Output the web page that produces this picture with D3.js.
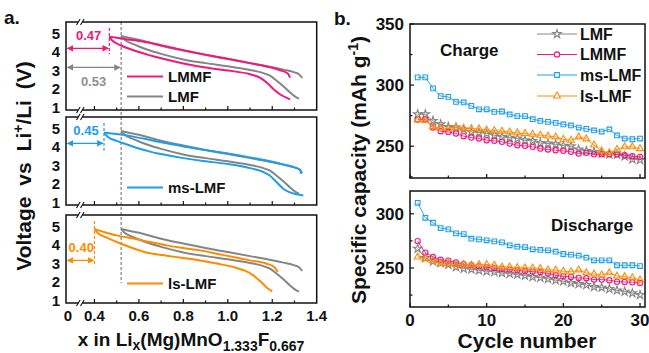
<!DOCTYPE html>
<html><head><meta charset="utf-8">
<script src="https://cdn.jsdelivr.net/npm/d3@7"></script>
<style>
body{margin:0;background:#fff}
svg{display:block}
text{font-family:"Liberation Sans",Arial,Helvetica,sans-serif;font-weight:bold;fill:#111}
</style>
</head><body><svg id="c" width="649" height="353"></svg>
<script>
// ---------- Panel a data: voltage profiles [x, V] ----------
const LMF_up   = [[0.52,4.86],[0.55,4.78],[0.6,4.66],[0.65,4.5],[0.7,4.34],[0.8,4.08],[0.9,3.84],[1.0,3.62],[1.1,3.4],[1.2,3.18],[1.25,3.05],[1.3,2.9],[1.32,2.8],[1.335,2.6]];
const LMF_down = [[0.52,4.86],[0.54,4.62],[0.57,4.45],[0.6,4.3],[0.65,4.08],[0.7,3.9],[0.8,3.6],[0.9,3.4],[1.0,3.23],[1.1,3.03],[1.15,2.9],[1.19,2.72],[1.22,2.45],[1.25,2.15],[1.28,1.82],[1.3,1.62],[1.32,1.48]];
const LMMF_up   = [[0.467,4.83],[0.5,4.77],[0.55,4.68],[0.6,4.6],[0.65,4.5],[0.7,4.36],[0.8,4.1],[0.9,3.86],[1.0,3.64],[1.1,3.4],[1.15,3.28],[1.2,3.15],[1.24,3.0],[1.27,2.84],[1.28,2.62]];
const LMMF_down = [[0.467,4.83],[0.48,4.62],[0.5,4.46],[0.53,4.3],[0.6,4.0],[0.65,3.82],[0.7,3.66],[0.8,3.38],[0.9,3.16],[1.0,3.0],[1.1,2.8],[1.15,2.58],[1.18,2.3],[1.21,1.95],[1.24,1.68],[1.27,1.5],[1.28,1.45]];
const MS_up   = [[0.443,4.77],[0.5,4.7],[0.575,4.56],[0.65,4.38],[0.725,4.2],[0.8,4.03],[0.875,3.88],[1.0,3.65],[1.1,3.44],[1.175,3.27],[1.25,3.06],[1.3,2.9],[1.325,2.77],[1.33,2.55]];
const MS_down = [[0.443,4.77],[0.46,4.55],[0.5,4.33],[0.53,4.2],[0.6,3.92],[0.65,3.75],[0.7,3.62],[0.8,3.4],[0.9,3.23],[1.0,3.08],[1.1,2.86],[1.16,2.65],[1.19,2.45],[1.22,2.1],[1.25,1.75],[1.28,1.55],[1.31,1.45],[1.34,1.38]];
const LS_up   = [[0.40,4.86],[0.45,4.68],[0.5,4.52],[0.575,4.35],[0.65,4.16],[0.725,3.98],[0.8,3.84],[0.875,3.71],[0.95,3.53],[1.025,3.35],[1.1,3.17],[1.175,2.99],[1.21,2.8],[1.225,2.55]];
const LS_down = [[0.40,4.86],[0.42,4.6],[0.455,4.4],[0.52,4.07],[0.6,3.72],[0.65,3.55],[0.725,3.42],[0.8,3.3],[0.875,3.17],[0.95,3.0],[1.025,2.81],[1.08,2.6],[1.115,2.36],[1.15,2.0],[1.18,1.65],[1.2,1.5]];
const onsetLMF = 0.52, onsetLMMF = 0.467, onsetMS = 0.443, onsetLS = 0.40;
const voltTicks = [1,2,3,4,5];
const xTicksA = [0,0.4,0.6,0.8,1.0,1.2,1.4];
const xTickLabelsA = ["0","0.4","0.6","0.8","1.0","1.2","1.4"];
const xMinorA = [0.5,0.7,0.9,1.1,1.3];

// ---------- Panel b data: capacity vs cycle ----------
const cycles = [1,2,3,4,5,6,7,8,9,10,11,12,13,14,15,16,17,18,19,20,21,22,23,24,25,26,27,28,29,30];
const seriesNames = ["LMF","LMMF","ms-LMF","ls-LMF"];
const chargeLMF  = [276.2,276.2,270.8,268,265.8,265.3,263.7,261.7,261.2,260.4,259,257.6,257.1,256.3,254.9,254.4,252.7,252.2,251.6,250.5,250,247.3,246.2,245.4,244,243.4,243.2,241.8,239.3,238.8];
const chargeLMMF = [271.9,271.9,265.3,262.3,261.7,260.4,258.2,257.1,256.3,254.9,254.4,253.6,252.2,250.8,250.3,249.5,248.1,247.3,246.7,246.2,245.4,244,244.6,243.4,243.4,243.4,243.4,242.6,241.8,241.3];
const chargeMS   = [306.3,306.3,297.3,291,290.4,286.3,285.8,283,280.2,280.2,278.1,278.4,276,274.6,274.6,272.1,270.7,269.9,269.1,267.8,267,265.3,264.2,262.9,262,263.7,258.8,256.3,255.7,256.3];
const chargeLS   = [271.5,271,266,265,264.5,265.5,264.6,264.4,264.2,263.2,262.8,262.3,261.7,261,260.4,259.8,259,258.3,257.6,255.7,254.9,257.6,256,251,246.2,244.6,247.3,249.5,249.5,248];
const disLMF  = [267.8,259.2,256.1,254.6,253.1,250.9,249.4,248.8,247.9,246.9,246.3,245.4,244.8,243.9,242.9,241.7,241.1,239.9,238.7,237.7,236.2,235.3,234.4,232.5,231.9,230.7,229.4,228.2,226.7,225.2];
const disLMMF = [274.8,264.1,260.1,257.7,256.7,255.2,253.4,252.5,251.5,250.6,250,249.1,248.5,247.9,247.2,246.6,246,244.8,243.3,242.3,241.7,240.8,240.5,239.3,239.3,238.7,237.4,237.1,236.8,236.2];
const disMS   = [310.1,296.3,291.7,286.8,285.6,281.9,281.3,277,276.4,275.5,274.5,273.6,270.9,269.6,269.3,267.2,266.6,266.3,265,262.9,262.3,261.3,259.5,257.1,257.1,257.1,252.5,252.5,252.5,251.8];
const disLS   = [260.1,258.6,256.4,254,254,253.1,253.5,252.8,253.1,253.1,252.5,250.9,250.9,250.3,250,250,249.4,248.2,248,247,246.5,248.2,245.5,244.5,243.5,245.5,242.5,242,241,239];
const chargeTicks = [250,300,350], chargeMinor = [225,275,325];
const disTicks = [250,300], disMinor = [225,275];
const cycleTicks = [0,10,20,30], cycleMinor = [5,15,25];

// ---------- styling ----------
const GRAY="#858585", PINK="#f2177c", BLUE="#1d9ee8", ORANGE="#ff8a00";
const svg = d3.select("#c");

// ================= Panel a =================
const xA = d3.scaleLinear().domain([0, 0.335, 1.4]).range([66, 80, 316.7]);
const pH = 88;
const tops = [22, 117, 215];
const yA = tops.map(t => d3.scaleLinear().domain([0.87, 5.62]).range([t + pH, t]));
const curveLine = y => d3.line().x(d => xA(d[0])).y(d => y(d[1])).curve(d3.curveMonotoneX);

const panelsA = [
  {curves:[[LMF_up,GRAY],[LMF_down,GRAY],[LMMF_up,PINK],[LMMF_down,PINK]],
   legend:[["LMMF",PINK,54.5],["LMF",GRAY,74.5]],
   onset:onsetLMMF, col:PINK, lab:"0.47", arrowV:4.2, dash:[5.3,3.88]},
  {curves:[[LMF_up,GRAY],[LMF_down,GRAY],[MS_up,BLUE],[MS_down,BLUE]],
   legend:[["ms-LMF",BLUE,70.5]],
   onset:onsetMS, col:BLUE, lab:"0.45", arrowV:4.2, dash:[5.3,3.8]},
  {curves:[[LMF_up,GRAY],[LMF_down,GRAY],[LS_up,ORANGE],[LS_down,ORANGE]],
   legend:[["ls-LMF",ORANGE,68.5]],
   onset:onsetLS, col:ORANGE, lab:"0.40", arrowV:3.17, dash:[5.3,2.9]}
];

const defs = svg.append("defs");
[["pk",PINK],["bl",BLUE],["or",ORANGE],["gr",GRAY]].forEach(([id,c])=>{
  defs.append("marker").attr("id","ah"+id).attr("viewBox","0 0 10 10").attr("refX",9).attr("refY",5)
    .attr("markerWidth",5).attr("markerHeight",5).attr("orient","auto-start-reverse")
    .append("path").attr("d","M0,0 L10,5 L0,10 z").attr("fill",c);
});
const mk = {[PINK]:"pk",[BLUE]:"bl",[ORANGE]:"or",[GRAY]:"gr"};

// long dashed reference line (LMF onset)
svg.append("line").attr("x1",xA(onsetLMF)).attr("x2",xA(onsetLMF)).attr("y1",22).attr("y2",283)
  .attr("stroke","#666").attr("stroke-width",1).attr("stroke-dasharray","3,2");

panelsA.forEach((p,i)=>{
  const y = yA[i], t = tops[i], b = t + pH;
  const g = svg.append("g");
  p.curves.forEach(([d,c])=>{
    g.append("path").attr("d",curveLine(y)(d)).attr("fill","none").attr("stroke",c).attr("stroke-width",2);
  });
  p.legend.forEach(([name,c,dy])=>{
    g.append("line").attr("x1",127).attr("x2",163).attr("y1",t+dy).attr("y2",t+dy).attr("stroke",c).attr("stroke-width",2);
    g.append("text").attr("x",168).attr("y",t+dy).attr("dy","0.36em").style("font-size","15px").text(name);
  });
  g.append("line").attr("x1",xA(p.onset)).attr("x2",xA(p.onset)).attr("y1",y(p.dash[0])).attr("y2",y(p.dash[1]))
    .attr("stroke",p.col).attr("stroke-width",1.2).attr("stroke-dasharray","3,2");
  g.append("line").attr("x1",xA(0)+1.5).attr("x2",xA(p.onset)-1).attr("y1",y(p.arrowV)).attr("y2",y(p.arrowV))
    .attr("stroke",p.col).attr("stroke-width",1.3)
    .attr("marker-start",`url(#ah${mk[p.col]})`).attr("marker-end",`url(#ah${mk[p.col]})`);
  g.append("text").attr("x",(xA(0)+xA(p.onset))/2+1).attr("y",y(p.arrowV)-8).attr("text-anchor","middle")
    .style("font-size","13px").style("fill",p.col).text(p.lab);
  if(i===0){
    g.append("line").attr("x1",xA(0)+1.5).attr("x2",xA(onsetLMF)-1).attr("y1",y(3.17)).attr("y2",y(3.17))
      .attr("stroke",GRAY).attr("stroke-width",1.3)
      .attr("marker-start","url(#ahgr)").attr("marker-end","url(#ahgr)");
    g.append("text").attr("x",(xA(0)+xA(onsetLMF))/2).attr("y",y(2.4)).attr("dy","0.36em").attr("text-anchor","middle")
      .style("font-size","13px").style("fill","#8f8f8f").text("0.53");
  }
  g.append("rect").attr("x",66).attr("y",t).attr("width",316.7-66).attr("height",pH)
    .attr("fill","none").attr("stroke","#111").attr("stroke-width",1.5);
  xTicksA.slice(1,-1).forEach(v=>g.append("line").attr("x1",xA(v)).attr("x2",xA(v)).attr("y1",b).attr("y2",b-4).attr("stroke","#111").attr("stroke-width",1.2));
  xMinorA.forEach(v=>g.append("line").attr("x1",xA(v)).attr("x2",xA(v)).attr("y1",b).attr("y2",b-2.5).attr("stroke","#111").attr("stroke-width",1.2));
  [t,b].forEach(yy=>{
    g.append("rect").attr("x",78.3).attr("y",yy-2).attr("width",4).attr("height",4).attr("fill","#fff");
    [78.3,82.3].forEach(xx=>g.append("line").attr("x1",xx-1.8).attr("x2",xx+1.8).attr("y1",yy+3).attr("y2",yy-3).attr("stroke","#111").attr("stroke-width",1.1));
  });
  voltTicks.forEach(v=>g.append("text").attr("x",60).attr("y",y(v)).attr("dy","0.36em").attr("text-anchor","end").style("font-size","15px").text(v));
});
xTicksA.forEach((v,k)=>svg.append("text").attr("x",xA(v)+(v===0?2:0)).attr("y",321).attr("text-anchor","middle").style("font-size","15px").text(xTickLabelsA[k]));
const xt = svg.append("text").attr("x",191).attr("y",346).attr("text-anchor","middle").style("font-size","19px");
xt.append("tspan").text("x in Li");
xt.append("tspan").attr("dy",4).style("font-size","14px").text("x");
xt.append("tspan").attr("dy",-4).text("(Mg)MnO");
xt.append("tspan").attr("dy",5).style("font-size","14px").text("1.333");
xt.append("tspan").attr("dy",-5).text("F");
xt.append("tspan").attr("dy",5).style("font-size","14px").text("0.667");
const yt = svg.append("text").attr("transform","translate(31,166) rotate(-90)").attr("text-anchor","middle")
  .style("font-size","21px").style("word-spacing","5px");
yt.append("tspan").text("Voltage vs Li");
yt.append("tspan").attr("dy",-8).style("font-size","14px").text("+");
yt.append("tspan").attr("dy",8).text("/Li (V)");
svg.append("text").attr("x",4).attr("y",24).style("font-size","19px").text("a.");

// ================= Panel b =================
const xB = d3.scaleLinear().domain([0,30.65]).range([410,645]);
const yC = d3.scaleLinear().domain([224,350]).range([178,24]);
const yD = d3.scaleLinear().domain([214,321]).range([307,191]);
const sym = {
  "LMF": d3.symbol().type(d3.symbolStar).size(22),
  "LMMF": d3.symbol().type(d3.symbolCircle).size(22),
  "ms-LMF": d3.symbol().type(d3.symbolSquare).size(22),
  "ls-LMF": d3.symbol().type(d3.symbolTriangle).size(20)
};
const colB = {"LMF":GRAY,"LMMF":PINK,"ms-LMF":BLUE,"ls-LMF":ORANGE};

function drawPanel(y, dataSets, ticks, minor, top, bottom, label, lx, ly, showX){
  const g = svg.append("g");
  dataSets.forEach(([name,vals])=>{
    const pts = cycles.map((c,i)=>[c,vals[i]]);
    g.append("path").attr("d",d3.line().x(d=>xB(d[0])).y(d=>y(d[1]))(pts))
      .attr("fill","none").attr("stroke",colB[name]).attr("stroke-width",0.9);
    g.selectAll(null).data(pts).enter().append("path")
      .attr("transform",d=>`translate(${xB(d[0])},${y(d[1])})`)
      .attr("d",sym[name]()).attr("fill","none").attr("stroke",colB[name]).attr("stroke-width",1.1);
  });
  g.append("rect").attr("x",410).attr("y",top).attr("width",235).attr("height",bottom-top)
    .attr("fill","none").attr("stroke","#111").attr("stroke-width",1.5);
  ticks.forEach(v=>{
    g.append("line").attr("x1",410).attr("x2",414).attr("y1",y(v)).attr("y2",y(v)).attr("stroke","#111").attr("stroke-width",1.2);
    g.append("text").attr("x",404).attr("y",y(v)).attr("dy","0.36em").attr("text-anchor","end").style("font-size","17px").text(v);
  });
  minor.forEach(v=>g.append("line").attr("x1",410).attr("x2",412.5).attr("y1",y(v)).attr("y2",y(v)).attr("stroke","#111").attr("stroke-width",1.2));
  cycleTicks.forEach(v=>{
    g.append("line").attr("x1",xB(v)).attr("x2",xB(v)).attr("y1",bottom).attr("y2",bottom-4).attr("stroke","#111").attr("stroke-width",1.2);
    if(showX) g.append("text").attr("x",xB(v)).attr("y",bottom+19).attr("text-anchor","middle").style("font-size","17px").text(v);
  });
  cycleMinor.forEach(v=>g.append("line").attr("x1",xB(v)).attr("x2",xB(v)).attr("y1",bottom).attr("y2",bottom-2.5).attr("stroke","#111").attr("stroke-width",1.2));
  g.append("text").attr("x",lx).attr("y",ly).attr("dy","0.36em").style("font-size","17px").text(label);
}
drawPanel(yC, [["LMF",chargeLMF],["LMMF",chargeLMMF],["ms-LMF",chargeMS],["ls-LMF",chargeLS]], chargeTicks, chargeMinor, 24, 178, "Charge", 440, 50, false);
drawPanel(yD, [["LMF",disLMF],["LMMF",disLMMF],["ms-LMF",disMS],["ls-LMF",disLS]], disTicks, disMinor, 191, 307, "Discharge", 551, 225, true);

const legY = [34,54.5,75,96];
seriesNames.forEach((n,i)=>{
  const g = svg.append("g");
  g.append("line").attr("x1",537).attr("x2",577).attr("y1",legY[i]).attr("y2",legY[i]).attr("stroke",colB[n]).attr("stroke-width",1.2);
  g.append("path").attr("transform",`translate(557,${legY[i]})`).attr("d",sym[n]()).attr("fill","#fff").attr("stroke",colB[n]).attr("stroke-width",1.1);
  g.append("text").attr("x",580).attr("y",legY[i]).attr("dy","0.36em").style("font-size","16px").text(n);
});
svg.append("text").attr("x",527).attr("y",348).attr("text-anchor","middle").style("font-size","21px").text("Cycle number");
const yb = svg.append("text").attr("transform","translate(366,170) rotate(-90)").attr("text-anchor","middle").style("font-size","21px");
yb.append("tspan").text("Specific capacity (mAh g");
yb.append("tspan").attr("dy",-8).style("font-size","14px").text("-1");
yb.append("tspan").attr("dy",8).text(")");
svg.append("text").attr("x",334).attr("y",25).style("font-size","19px").text("b.");
</script></body></html>
